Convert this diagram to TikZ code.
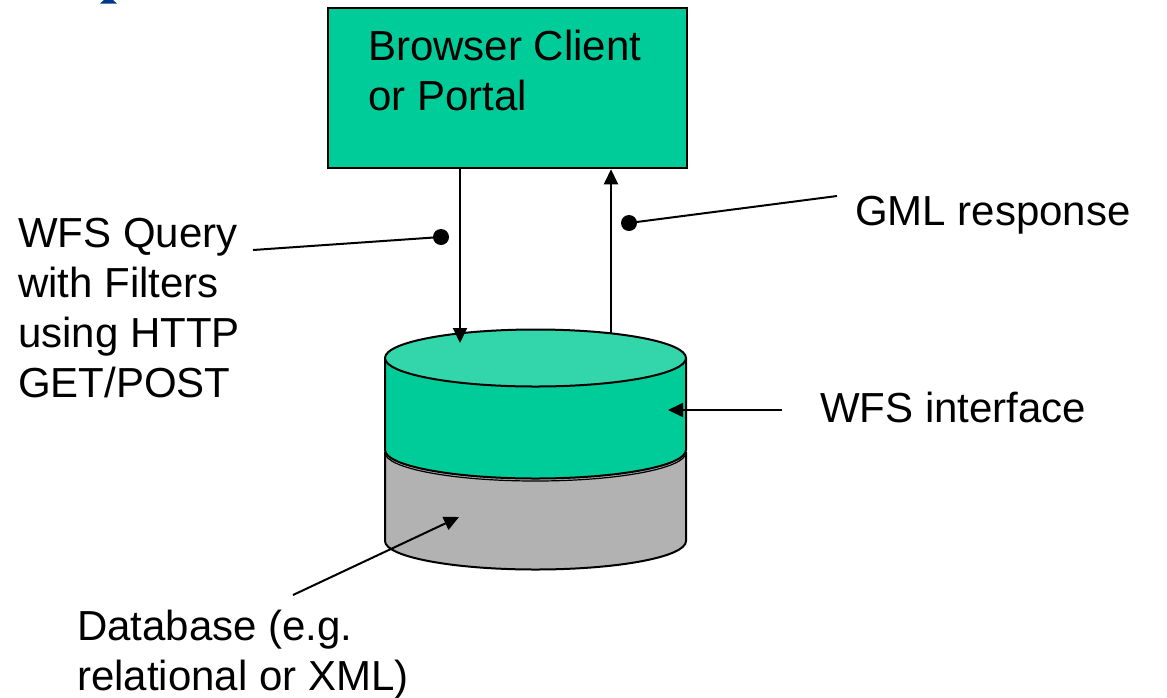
\documentclass[tikz,border=0pt]{standalone}
\usepackage{fontspec}
\setmainfont{Liberation Sans}
\usetikzlibrary{arrows.meta}
\definecolor{wfsgreen}{RGB}{0,204,153}
\definecolor{wfstop}{RGB}{51,214,170}
\definecolor{dbgray}{RGB}{178,178,178}
\definecolor{titleblue}{RGB}{0,56,140}
\tikzset{
  lbl/.style={inner sep=0pt, align=left, anchor=base west,
    font=\fontsize{42}{50}\selectfont},
  conn/.style={line width=2pt},
  arr/.style={conn, -{Triangle[length=15pt,width=14pt]}},
  dot/.style={circle, fill=black, inner sep=0pt, minimum size=16pt},
  outline/.style={line width=2pt, line join=round}
}
\begin{document}
\begin{tikzpicture}[x=1pt, y=-1pt]
  \useasboundingbox (0,0) rectangle (1167,697);

  % foot of the cut-off title glyph
  \fill[titleblue] (100,3.5) -- (117,3.5) -- (113,0) -- (104,0) -- cycle;

  % client box
  \node[draw, line width=2.5pt, fill=wfsgreen, minimum width=359pt,
        minimum height=160pt, inner sep=0pt] (client) at (507.5,88) {};
  % multi-line labels are placed by the baseline of their last line
  \node[lbl] (clienttext) at (368,110) {Browser Client\\or Portal};

  % cylinder: lower (database) section
  \fill[dbgray] (385,452) -- (385,541)
     arc[start angle=180, end angle=360, x radius=150.5pt, y radius=28.5pt]
     -- (686,452) -- cycle;
  \draw[outline] (385,452) -- (385,541)
     arc[start angle=180, end angle=360, x radius=150.5pt, y radius=28.5pt]
     -- (686,452);
  % cylinder: upper (interface) section
  \fill[wfsgreen] (385,358) -- (385,450)
     arc[start angle=180, end angle=360, x radius=150.5pt, y radius=28.5pt]
     -- (686,358) -- cycle;
  \draw[outline] (385,358) -- (385,450)
     arc[start angle=180, end angle=360, x radius=150.5pt, y radius=28.5pt]
     -- (686,358);
  \draw[line width=1.2pt] (385,452.5)
     arc[start angle=180, end angle=360, x radius=150.5pt, y radius=28.5pt];
  \draw[outline, fill=wfstop] (535.5,358) ellipse [x radius=150.5pt, y radius=28.5pt];

  % connector end points on the cylinder
  \coordinate (qin) at (460,343);
  \coordinate (rout) at (611,333);
  \coordinate (ifpt) at (668,410);
  \coordinate (dbpt) at (459,517);

  % request and response
  \draw[arr] (client.south -| qin) -- (qin);
  \draw[arr] (rout) -- (client.south -| rout);

  % labels
  \node[lbl] (query) at (18,397) {WFS Query\\with Filters\\using HTTP\\GET/POST};
  \node[lbl] (gml) at (855,225) {GML response};
  \node[lbl] (iface) at (820,422) {WFS interface};
  \node[lbl] (db) at (77,690) {Database (e.g.\\relational or XML)};

  % leaders
  \node[dot] (qdot) at (441,237) {};
  \node[dot] (rdot) at (629,223) {};
  \coordinate (qend) at (253,250);
  \coordinate (rend) at (837,196);
  \coordinate (ifend) at (782,410);
  \coordinate (dbend) at (293,595);
  \draw[conn] (qend) -- (qdot.center);
  \draw[conn] (rdot.center) -- (rend);
  \draw[arr] (ifend) -- (ifpt);
  \draw[arr] (dbend) -- (dbpt);
\end{tikzpicture}
\end{document}
